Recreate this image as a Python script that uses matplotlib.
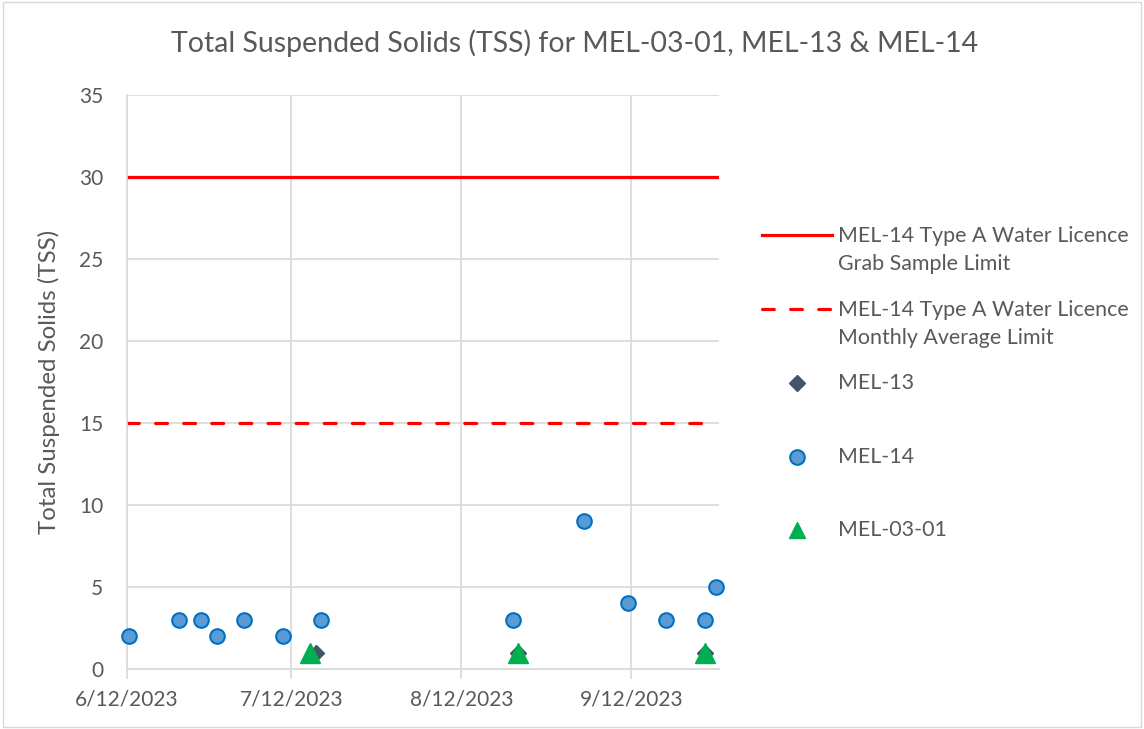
import matplotlib.pyplot as plt
import matplotlib.dates as mdates
import pandas
from matplotlib.lines import Line2D
from matplotlib.patches import Rectangle

plt.rcParams['font.family'] = ['Lato', 'DejaVu Sans']

TEXT_COLOR = '#595959'
GRID_COLOR = '#D9D9D9'
DASHES = (0, (3.7, 5.1))

# sample data (samples taken around 10:00)
mel14_dates = ['2023-06-12 10:00', '2023-06-21 10:00', '2023-06-25 10:00', '2023-06-28 10:00',
               '2023-07-03 10:00', '2023-07-10 10:00', '2023-07-17 10:00', '2023-08-21 10:00',
               '2023-09-03 10:00', '2023-09-11 10:00', '2023-09-18 10:00', '2023-09-25 10:00',
               '2023-09-27 10:00']
mel14_tss = [2, 3, 3, 2, 3, 2, 3, 3, 9, 4, 3, 3, 5]

mel13_dates = ['2023-07-16 10:00', '2023-08-22 10:00', '2023-09-25 10:00']
mel13_tss = [1, 1, 1]

mel0301_dates = ['2023-07-15 10:00', '2023-08-22 10:00', '2023-09-25 10:00']
mel0301_tss = [1, 1, 1]

grab_limit_dates = ['2023-06-12 00:00', '2023-09-28 00:00']
grab_limit = [30, 30]
monthly_limit_dates = ['2023-06-12 00:00', '2023-09-25 10:00']
monthly_limit = [15, 15]

x_ticks = ['2023-06-12', '2023-07-12', '2023-08-12', '2023-09-12']
x_range = ['2023-06-12', '2023-09-28']

fig = plt.figure(figsize=(11.44, 7.29), dpi=100)
ax = fig.add_axes([127 / 1144, 1 - 669 / 729, (719 - 127) / 1144, (669 - 95) / 729])

ax.plot(pandas.to_datetime(grab_limit_dates), grab_limit, color='#FF0000', linewidth=2.3)
ax.plot(pandas.to_datetime(monthly_limit_dates), monthly_limit, color='#FF0000',
        linewidth=2.3, linestyle=DASHES, dash_capstyle='round')
ax.plot(pandas.to_datetime(mel13_dates), mel13_tss, linestyle='none', marker='D',
        markersize=8, color='#44546A', zorder=4)
ax.plot(pandas.to_datetime(mel14_dates), mel14_tss, linestyle='none', marker='o',
        markersize=10.5, markerfacecolor='#5B9BD5', markeredgecolor='#0070C0',
        markeredgewidth=1.5, zorder=5, clip_on=False)
ax.plot(pandas.to_datetime(mel0301_dates), mel0301_tss, linestyle='none', marker='^',
        markersize=15, color='#00B050', zorder=6)

ax.set_xlim(pandas.to_datetime(x_range[0]), pandas.to_datetime(x_range[1]))
ax.set_ylim(0, 35)
ax.set_yticks(range(0, 36, 5))
ax.set_xticks(pandas.to_datetime(x_ticks))
ax.xaxis.set_major_formatter(mdates.DateFormatter('%-m/%d/%Y'))

ax.grid(True, color=GRID_COLOR, linewidth=1.2)
ax.set_axisbelow(True)
for side in ['top', 'right']:
    ax.spines[side].set_visible(False)
for side in ['left', 'bottom']:
    ax.spines[side].set_color(GRID_COLOR)
    ax.spines[side].set_linewidth(1.2)
ax.tick_params(axis='y', length=0, pad=17, labelsize=15, labelcolor=TEXT_COLOR)
ax.tick_params(axis='x', length=7, width=1.2, color=GRID_COLOR, pad=8,
               labelsize=15, labelcolor=TEXT_COLOR)

fig.text(49 / 1144, 1 - 382 / 729, 'Total Suspended Solids (TSS)', rotation=90,
         ha='center', va='center', fontsize=17.3, color=TEXT_COLOR)
fig.text(575 / 1144, 1 - 43 / 729, 'Total Suspended Solids (TSS) for MEL-03-01, MEL-13 & MEL-14',
         ha='center', va='center', fontsize=20.5, color=TEXT_COLOR)

# legend drawn by hand to match the uneven spacing of the original
legend_rows = [
    (250, 235, Line2D([762, 832], [0, 0], color='#FF0000', linewidth=2.3),
     'MEL-14 Type A Water Licence\nGrab Sample Limit'),
    (324, 309, Line2D([762, 832], [0, 0], color='#FF0000', linewidth=2.3,
                      linestyle=DASHES, dash_capstyle='round'),
     'MEL-14 Type A Water Licence\nMonthly Average Limit'),
    (383, 383, Line2D([797], [0], marker='D', markersize=8, color='#44546A', linestyle='none'),
     'MEL-13'),
    (457, 457, Line2D([797], [0], marker='o', markersize=10.5, markerfacecolor='#5B9BD5',
                      markeredgecolor='#0070C0', markeredgewidth=1.5, linestyle='none'),
     'MEL-14'),
    (530, 530, Line2D([797], [0], marker='^', markersize=12, color='#00B050', linestyle='none'),
     'MEL-03-01'),
]
for text_y, handle_y, handle, label in legend_rows:
    xs = [x / 1144 for x in handle.get_xdata()]
    handle.set_data(xs, [1 - handle_y / 729] * len(xs))
    handle.set_transform(fig.transFigure)
    fig.add_artist(handle)
    fig.text(838 / 1144, 1 - text_y / 729, label, ha='left', va='center', fontsize=15.4,
             color=TEXT_COLOR, linespacing=1.45)

fig.add_artist(Rectangle((0.003, 0.003), 0.994, 0.994, transform=fig.transFigure,
                         fill=False, edgecolor=GRID_COLOR, linewidth=1))

fig.savefig('out.png', dpi=100)
